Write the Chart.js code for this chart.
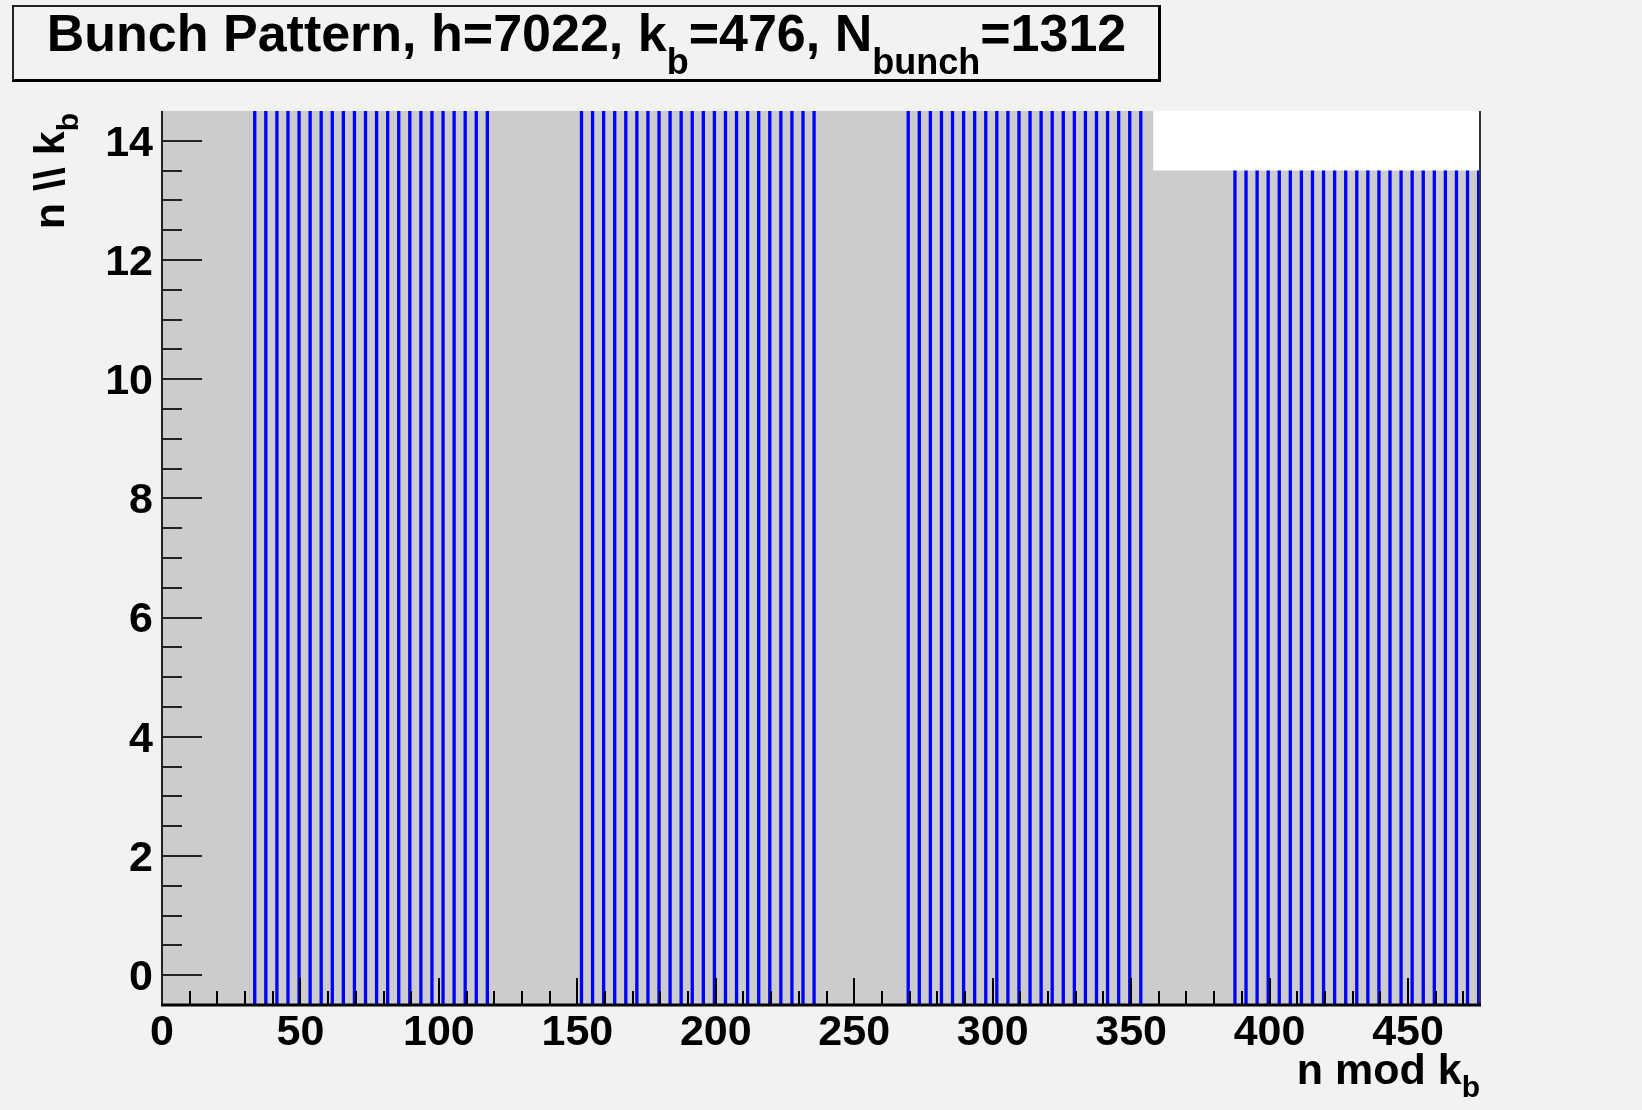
<!DOCTYPE html>
<html>
<head>
<meta charset="utf-8">
<script src="https://cdn.jsdelivr.net/npm/chart.js@4/dist/chart.umd.min.js"></script>
<style>
html, body { margin:0; padding:0; background:#f2f2f2; }
#wrap { position:relative; width:1642px; height:1110px; overflow:hidden; }
#c { position:absolute; left:0; top:0; }
.t { position:absolute; font-family:"Liberation Sans", Arial, Helvetica, sans-serif; font-weight:bold; color:#000; white-space:nowrap; }
.t sub { vertical-align:baseline; position:relative; }
#titlebox { position:absolute; left:12px; top:5px; width:1149px; height:77px; box-sizing:border-box;
  border-left:2px solid #222; border-top:2px solid #222; border-right:3px solid #000; border-bottom:3px solid #000; background:#f2f2f2; }
#title { left:12px; top:7px; width:1149px; text-align:center; font-size:52px; line-height:52px; }
#title sub { font-size:36px; top:23px; }
#xtitle { left:1080px; top:1048px; width:400px; text-align:right; font-size:43px; line-height:43px; }
#xtitle sub { font-size:30px; top:13px; }
#ytitle { left:28px; top:413px; width:300px; text-align:right; font-size:43px; line-height:43px; transform-origin:0 0; transform:rotate(-90deg); }
#ytitle sub { font-size:30px; top:14px; }
</style>
</head>
<body>
<div id="wrap">
  <canvas id="c" width="1642" height="1110"></canvas>
  <div id="titlebox"></div>
  <div id="title" class="t">Bunch Pattern, h=7022, k<sub>b</sub>=476, N<sub>bunch</sub>=1312</div>
  <div id="xtitle" class="t">n mod k<sub>b</sub></div>
  <div id="ytitle" class="t">n \\ k<sub>b</sub></div>
</div>
<script>
// ---- data ----
const h = 7022;        // harmonic number (total buckets)
const kb = 476;        // buckets per row (n mod kb)
const train1 = [33,37,41,45,49,53,57,61,65,69,73,77,81,85,89,93,97,101,105,109,113,117];
const train2 = [151,155,159,163,167,171,175,179,183,187,191,195,199,203,207,211,215,219,223,227,231,235];
const train3 = [269,273,277,281,285,289,293,297,301,305,309,313,317,321,325,329,333,337,341,345,349,353];
const train4 = [387,391,395,399,403,407,411,415,419,423,427,431,435,439,443,447,451,455,459,463,467,471,475];
const xTicks = [0,50,100,150,200,250,300,350,400,450];
const yTicks = [0,2,4,6,8,10,12,14];

// ---- derived ----
const nRows = Math.ceil(h / kb);                 // 15 rows (0..14)
const lastRowLen = h - (nRows - 1) * kb;         // buckets present in last row
const bunches = [].concat(train1, train2, train3, train4);
const topRowOf = b => (b < lastRowLen ? nRows - 1 : nRows - 2);

const bunchBars = bunches.map(b => ({ x: b + 0.5, y: [-0.5, topRowOf(b) + 0.5] }));
const bucketArea = [
  { x: 0, y: nRows - 0.5 },
  { x: lastRowLen, y: nRows - 1.5 },
  { x: kb, y: nRows - 1.5 }
];

const FONT = '"Liberation Sans", Arial, Helvetica, sans-serif';

const rootFrame = {
  id: 'rootFrame',
  beforeDraw(chart) {
    const { ctx, chartArea: a } = chart;
    ctx.save();
    ctx.fillStyle = '#ffffff';
    ctx.fillRect(a.left, a.top, a.right - a.left, a.bottom - a.top);
    ctx.restore();
  },
  afterDatasetsDraw(chart) {
    const { ctx, chartArea: a, scales: { x, y } } = chart;
    ctx.save();
    ctx.strokeStyle = '#000';
    ctx.lineWidth = 2;
    for (let v = 10; v < kb; v += 10) {
      const px = Math.round(x.getPixelForValue(v));
      const len = xTicks.includes(v) ? 27 : 14;
      ctx.beginPath();
      ctx.moveTo(px, a.bottom);
      ctx.lineTo(px, a.bottom - len);
      ctx.stroke();
    }
    ctx.strokeStyle = '#222';
    for (let v = 0; v <= 14; v += 0.5) {
      const py = Math.round(y.getPixelForValue(v));
      const len = yTicks.includes(v) ? 40 : 20;
      ctx.beginPath();
      ctx.moveTo(a.left, py);
      ctx.lineTo(a.left + len, py);
      ctx.stroke();
    }
    ctx.strokeStyle = '#222';
    ctx.lineWidth = 2;
    ctx.beginPath();
    ctx.moveTo(a.left, a.top);
    ctx.lineTo(a.left, a.bottom);
    ctx.stroke();
    ctx.strokeStyle = '#333';
    ctx.beginPath();
    ctx.moveTo(a.right, a.top);
    ctx.lineTo(a.right, a.bottom);
    ctx.stroke();
    ctx.strokeStyle = '#000';
    ctx.lineWidth = 3;
    ctx.beginPath();
    ctx.moveTo(a.left - 1, a.bottom);
    ctx.lineTo(a.right + 1, a.bottom);
    ctx.stroke();
    ctx.restore();
  }
};

new Chart(document.getElementById('c'), {
  type: 'bar',
  data: {
    datasets: [
      {
        type: 'bar',
        label: 'bunches',
        data: bunchBars,
        backgroundColor: '#0000ff',
        borderWidth: 0,
        barPercentage: 0.3,
        categoryPercentage: 1.0,
        grouped: false,
        order: 1
      },
      {
        type: 'line',
        label: 'buckets',
        data: bucketArea,
        stepped: 'before',
        fill: 'start',
        backgroundColor: '#cccccc',
        borderWidth: 0,
        pointRadius: 0,
        order: 2
      }
    ]
  },
  plugins: [rootFrame],
  options: {
    responsive: false,
    devicePixelRatio: 1,
    animation: false,
    layout: { padding: { left: 0, top: 111, right: 162, bottom: 0 } },
    plugins: { legend: { display: false }, tooltip: { enabled: false }, title: { display: false } },
    scales: {
      x: {
        type: 'linear',
        min: 0,
        max: kb,
        offset: false,
        grid: { display: false, drawTicks: false, offset: false },
        border: { display: false },
        afterBuildTicks: s => { s.ticks = xTicks.map(v => ({ value: v })); },
        afterFit: s => { s.height = 105; },
        ticks: {
          autoSkip: false,
          maxRotation: 0,
          padding: 2,
          color: '#000',
          font: { family: FONT, weight: 'bold', size: 43 }
        }
      },
      y: {
        type: 'linear',
        min: -0.5,
        max: nRows - 0.5,
        grid: { display: false, drawTicks: false },
        border: { display: false },
        afterBuildTicks: s => { s.ticks = yTicks.map(v => ({ value: v })); },
        afterFit: s => { s.width = 162; },
        ticks: {
          autoSkip: false,
          padding: 9,
          labelOffset: 3,
          color: '#000',
          font: { family: FONT, weight: 'bold', size: 43 }
        }
      }
    }
  }
});
</script>
</body>
</html>
